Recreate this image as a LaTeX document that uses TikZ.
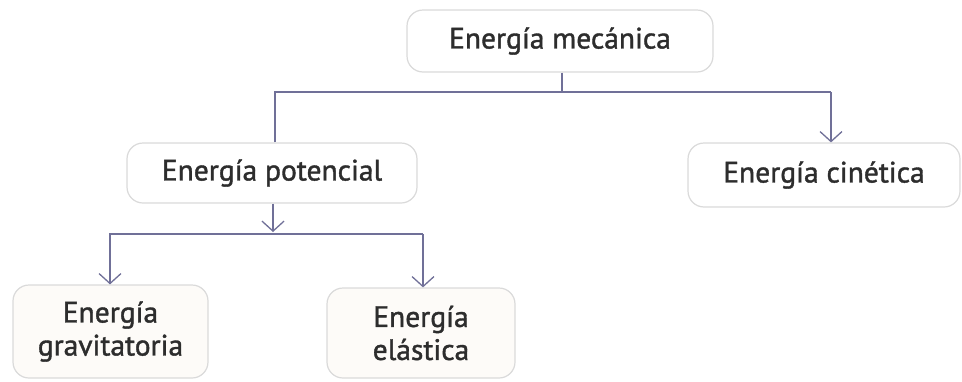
\documentclass[tikz,border=0pt]{standalone}
\usepackage{fontspec}
\setmainfont{PT Sans}[RawFeature={embolden=1.3}]
\usetikzlibrary{arrows.meta}
\definecolor{lineblue}{RGB}{112,112,152}
\definecolor{boxborder}{RGB}{218,218,218}
\definecolor{boxfill}{RGB}{255,255,255}
\definecolor{boxfillb}{RGB}{253,251,248}
\definecolor{txt}{RGB}{45,45,45}
\tikzset{
  box/.style={draw=boxborder, line width=1.2pt, rounded corners=16pt, fill=boxfill,
    align=center, inner sep=0pt, font=\fontsize{29.5}{33}\selectfont, text=txt},
  conn/.style={draw=lineblue, line width=1.5pt},
  arr/.style={conn, -{Straight Barb[length=10pt,width=22pt,line width=1.3pt]}}
}
\begin{document}
\begin{tikzpicture}[x=1pt,y=-1pt]
\useasboundingbox (0,0) rectangle (962,381);
\node[box, minimum width=306pt, minimum height=62pt] (mec) at (560,41) {Energía mecánica};
\node[box, minimum width=290pt, minimum height=60pt] (pot) at (272,173) {Energía potencial};
\node[box, minimum width=272pt, minimum height=64pt] (cin) at (824,175) {Energía cinética};
\node[box, fill=boxfillb, minimum width=195pt, minimum height=93pt] (grav) at (110.5,331.5) {Energía\\gravitatoria};
\node[box, fill=boxfillb, minimum width=188pt, minimum height=90pt] (ela) at (421,333) {Energía\\elástica};
\coordinate (j1) at (562,92);
\coordinate (l1) at (275,92);
\coordinate (r1) at (831,92);
\coordinate (j2) at (273,232);
\coordinate (l2) at (110,234);
\coordinate (r2) at (423,234);
\draw[conn] (mec.south -| j1) -- (j1);
\draw[conn] (pot.north -| l1) -- (l1) -- (r1);
\draw[arr] (r1) -- (cin.north -| r1);
\draw[arr] (pot.south -| j2) -- (j2);
\draw[conn] (grav.north -| l2) -- (l2) -- (r2);
\draw[arr] (l2) -- (grav.north -| l2);
\draw[arr] (r2) -- (ela.north -| r2);
\end{tikzpicture}
\end{document}
